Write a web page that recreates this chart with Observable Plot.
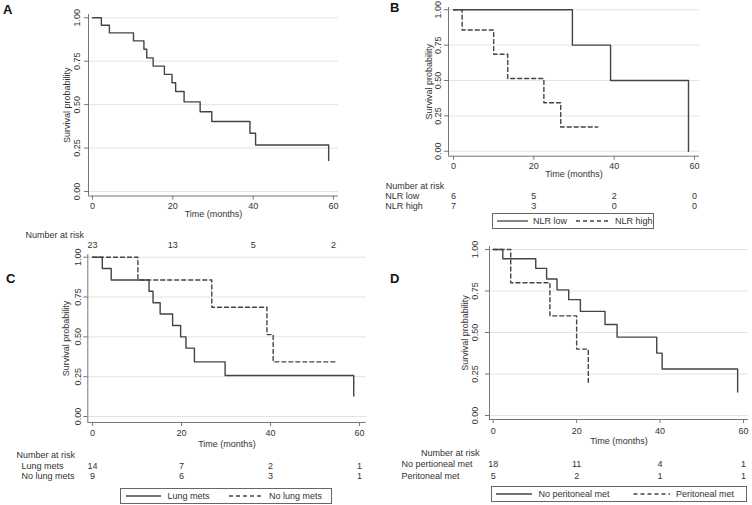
<!DOCTYPE html>
<html>
<head>
<meta charset="utf-8">
<script src="https://cdn.jsdelivr.net/npm/d3@7"></script>
<script src="https://cdn.jsdelivr.net/npm/@observablehq/plot@0.6"></script>
<style>
  body { margin: 0; background: #fff; }
  #wrap { position: relative; width: 752px; height: 505px; overflow: hidden; background: #fff;
          font-family: "Liberation Sans", Arial, sans-serif; }
  .panel { position: absolute; }
  .panel svg { overflow: visible; }
  .letter { position: absolute; font: bold 13px "Liberation Sans", Arial, sans-serif; line-height: 14px; color: #111; }
  .legend { position: absolute; border: 1px solid #666; box-sizing: border-box; background: #fff; }
  .legend svg { position: absolute; left: 0; top: 0; overflow: visible; }
</style>
</head>
<body>
<div id="wrap"></div>
<script>
// ---------- shared tick values ----------
const xTicks = [0, 20, 40, 60];
const yTicks = [0, 0.25, 0.5, 0.75, 1];
const riskTimes = [0, 20, 40, 60];

// ---------- Panel A ----------
const aTime = [0, 2.2, 4.2, 10.2, 12.8, 13.5, 15.1, 17.9, 19.8, 20.7, 22.8, 26.8, 29.7, 39.2, 40.6, 58.8];
const aSurv = [1, 0.957, 0.913, 0.867, 0.819, 0.769, 0.722, 0.674, 0.626, 0.576, 0.516, 0.459, 0.403, 0.335, 0.268, 0.179];
const aRisk = [23, 13, 5, 2];

// ---------- Panel B ----------
const bLowTime = [0, 29.6, 39.1, 58.5];
const bLowSurv = [1, 0.75, 0.5, 0];
const bHighTime = [0, 2.15, 10.0, 13.5, 22.5, 26.7, 35.9];
const bHighSurv = [1, 0.857, 0.686, 0.514, 0.343, 0.171, 0.171];
const bRiskLow = [6, 5, 2, 0];
const bRiskHigh = [7, 3, 0, 0];
const bLabels = ["NLR low", "NLR high"];

// ---------- Panel C ----------
const cLungTime = [0, 2.2, 4.2, 12.7, 13.6, 15.2, 18.0, 19.8, 21.0, 22.9, 29.8, 58.7];
const cLungSurv = [1, 0.929, 0.857, 0.786, 0.714, 0.643, 0.571, 0.5, 0.429, 0.343, 0.257, 0.128];
const cNoLungTime = [0, 10.2, 26.8, 39.2, 40.6, 54.9];
const cNoLungSurv = [1, 0.857, 0.686, 0.514, 0.343, 0.343];
const cRiskLung = [14, 7, 2, 1];
const cRiskNoLung = [9, 6, 3, 1];
const cLabels = ["Lung mets", "No lung mets"];

// ---------- Panel D ----------
const dNoPerTime = [0, 2.3, 10.2, 12.8, 15.3, 18.1, 20.9, 26.8, 29.7, 39.2, 40.5, 58.6];
const dNoPerSurv = [1, 0.944, 0.886, 0.822, 0.757, 0.698, 0.627, 0.548, 0.472, 0.376, 0.28, 0.141];
const dPerTime = [0, 4.2, 13.6, 20.0, 22.8];
const dPerSurv = [1, 0.8, 0.6, 0.4, 0.2];
const dRiskNoPer = [18, 11, 4, 1];
const dRiskPer = [5, 2, 1, 1];
const dRowLabels = ["No pertioneal met", "Peritoneal met"];
const dLegendLabels = ["No peritoneal met", "Peritoneal met"];

const zip = (t, s) => t.map((d, i) => ({t: d, s: s[i]}));
const CURVE = "#444";
const AXIS = "#777";
const TEXT = "#333";
const FONT = "'Liberation Sans', Arial, sans-serif";
const FS = 9;

function km(cfg) {
  const marks = [
    Plot.gridY(yTicks, {stroke: "#e3e3e3", strokeOpacity: 1}),
    Plot.ruleX([cfg.xDomain[0]], {stroke: AXIS}),
    Plot.ruleY([cfg.yDomain[0]], {stroke: AXIS}),
    Plot.axisY(yTicks, {tickSize: 4, tickFormat: () => "", label: null, stroke: AXIS}),
    Plot.axisX(xTicks, {tickSize: 4, tickFormat: () => "", label: null, stroke: AXIS}),
    Plot.text(yTicks, {y: d => d, text: d => d3.format(".2f")(d), frameAnchor: "left",
      dx: cfg.yTickDx, rotate: -90, textAnchor: "middle", lineAnchor: "middle", fill: TEXT, fontSize: FS}),
    Plot.text(["Survival probability"], {text: d => d, frameAnchor: "left", dx: cfg.yLabelDx,
      rotate: -90, textAnchor: "middle", lineAnchor: "middle", fill: TEXT, fontSize: FS}),
    Plot.text(xTicks, {x: d => d, text: d => String(d), frameAnchor: "bottom", dy: cfg.tickDy,
      lineAnchor: "middle", fill: TEXT, fontSize: FS}),
    Plot.text(["Time (months)"], {text: d => d, frameAnchor: "bottom", dy: cfg.timeDy,
      lineAnchor: "middle", fill: TEXT, fontSize: FS}),
    Plot.text(["Number at risk"], {text: d => d, frameAnchor: "bottom-left", dx: cfg.narDx, dy: cfg.narDy,
      textAnchor: cfg.narAnchor || "start", lineAnchor: "middle", fill: TEXT, fontSize: FS})
  ];
  cfg.risks.forEach((r, i) => {
    marks.push(Plot.text(riskTimes, {x: d => d, text: (d, j) => String(r[j]), frameAnchor: "bottom",
      dy: cfg.rowDy[i], lineAnchor: "middle", fill: TEXT, fontSize: FS}));
    if (cfg.rowLabels) {
      marks.push(Plot.text([cfg.rowLabels[i]], {text: d => d, frameAnchor: "bottom-left", dx: cfg.rowDx,
        dy: cfg.rowDy[i], textAnchor: "start", lineAnchor: "middle", fill: TEXT, fontSize: FS}));
    }
  });
  cfg.series.forEach(s => {
    marks.push(Plot.line(s.data, {x: "t", y: "s", curve: "step-after", stroke: CURVE,
      strokeWidth: 1.4, strokeDasharray: s.dash ? "4,3" : null}));
  });
  const chart = Plot.plot({
    width: cfg.width, height: cfg.height,
    marginLeft: cfg.ml, marginRight: cfg.mr, marginTop: cfg.mt, marginBottom: cfg.mb,
    x: {domain: cfg.xDomain, axis: null},
    y: {domain: cfg.yDomain, axis: null},
    style: {fontFamily: FONT, fontSize: FS + "px", color: TEXT, background: "transparent", overflow: "visible"},
    marks
  });
  const holder = document.createElement("div");
  holder.className = "panel";
  holder.style.left = cfg.left + "px";
  holder.style.top = cfg.top + "px";
  holder.appendChild(chart);
  document.getElementById("wrap").appendChild(holder);
}

function legend(x, y, w, h, items) {
  const div = d3.select("#wrap").append("div").attr("class", "legend")
    .style("left", x + "px").style("top", y + "px").style("width", w + "px").style("height", h + "px");
  const svg = div.append("svg").attr("width", w).attr("height", h);
  items.forEach(it => {
    svg.append("line").attr("x1", it.x1).attr("x2", it.x2).attr("y1", h / 2 - 1).attr("y2", h / 2 - 1)
      .attr("stroke", CURVE).attr("stroke-width", 1.3).attr("stroke-dasharray", it.dash ? "4,3" : null);
    svg.append("text").attr("x", it.tx).attr("y", h / 2 - 1).attr("dy", "0.35em")
      .attr("font-family", FONT).attr("font-size", FS).attr("fill", TEXT).text(it.label);
  });
}

function letter(txt, x, y) {
  d3.select("#wrap").append("div").attr("class", "letter")
    .style("left", x + "px").style("top", y + "px").text(txt);
}

// Panel A
km({left: 0, top: 0, width: 376, height: 250, ml: 88, mr: 38, mt: 14, mb: 54.5,
  xDomain: [-1.0, 61.25], yDomain: [-0.026, 1.019],
  yTickDx: -11, yLabelDx: -21, tickDy: 10.5, timeDy: 18.5, narDx: -63, narDy: 39.5,
  risks: [aRisk], rowDy: [49.5],
  series: [{data: zip(aTime, aSurv)}]});

// Panel B
km({left: 376, top: 0, width: 376, height: 250, ml: 72, mr: 53, mt: 7, mb: 94.3,
  xDomain: [-1.245, 61.24], yDomain: [-0.035, 1.016],
  yTickDx: -10.3, yLabelDx: -19, tickDy: 10, timeDy: 18.3, narDx: -62.7, narDy: 30,
  risks: [bRiskLow, bRiskHigh], rowDy: [40, 50], rowLabels: bLabels, rowDx: -63.3,
  series: [{data: zip(bLowTime, bLowSurv)}, {data: zip(bHighTime, bHighSurv), dash: true}]});

// Panel C
km({left: 0, top: 240, width: 376, height: 265, ml: 87.3, mr: 10.3, mt: 14, mb: 83,
  xDomain: [-1.056, 61.5], yDomain: [-0.0377, 1.017],
  yTickDx: -10, yLabelDx: -22, tickDy: 11, timeDy: 21.3, narDx: -71.3, narDy: 33,
  risks: [cRiskLung, cRiskNoLung], rowDy: [43.7, 54], rowLabels: cLabels, rowDx: -66.3,
  series: [{data: zip(cLungTime, cLungSurv)}, {data: zip(cNoLungTime, cNoLungSurv), dash: true}]});

// Panel D
km({left: 376, top: 240, width: 376, height: 265, ml: 113, mr: 4, mt: 6, mb: 86,
  xDomain: [-0.887, 61.2], yDomain: [-0.024, 1.018],
  yTickDx: -14, yLabelDx: -24.7, tickDy: 12, timeDy: 22, narDx: -10, narDy: 34, narAnchor: "end",
  risks: [dRiskNoPer, dRiskPer], rowDy: [45, 57], rowLabels: dRowLabels, rowDx: -88,
  series: [{data: zip(dNoPerTime, dNoPerSurv)}, {data: zip(dPerTime, dPerSurv), dash: true}]});

// Legends
legend(492, 213, 162, 16, [
  {x1: 4, x2: 35, tx: 40, label: bLabels[0]},
  {x1: 83, x2: 117, tx: 122, label: bLabels[1], dash: true}]);
legend(120, 488, 212, 16, [
  {x1: 5, x2: 40, tx: 46.5, label: cLabels[0]},
  {x1: 108, x2: 143, tx: 148, label: cLabels[1], dash: true}]);
legend(491, 486, 256, 16, [
  {x1: 4, x2: 40, tx: 46.5, label: dLegendLabels[0]},
  {x1: 141.5, x2: 178, tx: 184, label: dLegendLabels[1], dash: true}]);

// Panel letters
letter("A", 3, 3);
letter("B", 390, 1);
letter("C", 6, 272);
letter("D", 390, 272);
</script>
</body>
</html>
